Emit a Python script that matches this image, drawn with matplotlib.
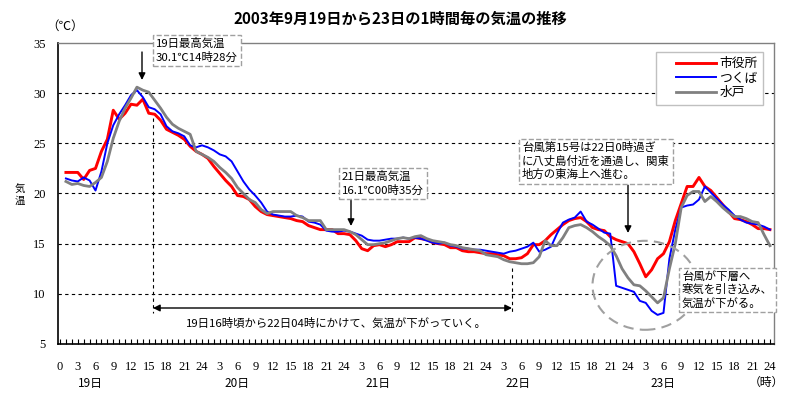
import matplotlib
matplotlib.use('Agg')
import matplotlib.pyplot as plt
from matplotlib.patches import Ellipse
from matplotlib.legend_handler import HandlerLine2D

plt.rcParams['font.family'] = ['Noto Sans CJK JP', 'DejaVu Sans']

# ---------------- data ----------------
hours = list(range(1, 121))

shiyakusho = [22.1, 22.1, 22.1, 21.4, 22.3, 22.5, 24.2, 25.4, 28.3, 27.4,
              28.0, 28.9, 28.8, 29.4, 28.0, 27.9, 27.3, 26.4, 26.1, 25.8,
              25.4, 24.7, 24.2, 23.9, 23.5, 22.7, 22.0, 21.3, 20.7, 19.8,
              19.7, 19.4, 18.7, 18.2, 17.9, 17.8, 17.7, 17.6, 17.5, 17.3,
              17.2, 16.8, 16.6, 16.4, 16.4, 16.4, 16.0, 16.0, 15.9, 15.3,
              14.5, 14.3, 14.8, 14.9, 14.7, 14.9, 15.2, 15.2, 15.2, 15.6,
              15.5, 15.4, 15.1, 15.0, 14.9, 14.6, 14.6, 14.3, 14.2, 14.2,
              14.1, 14.0, 14.0, 13.9, 13.8, 13.5, 13.5, 13.6, 14.0, 14.9,
              14.9, 15.3, 15.9, 16.4, 16.9, 17.3, 17.5, 17.6, 17.2, 16.6,
              16.4, 16.3, 15.7, 15.4, 15.2, 15.0, 14.2, 13.0, 11.7, 12.4,
              13.5, 14.0, 15.2, 17.3, 19.0, 20.7, 20.7, 21.6, 20.7, 20.3,
              19.6, 18.9, 18.2, 17.5, 17.4, 17.2, 16.9, 16.5, 16.5, 16.4]

tsukuba = [21.5, 21.3, 21.2, 21.6, 21.3, 20.3, 22.2, 25.0, 26.8, 27.9,
           28.8, 29.8, 30.3, 29.6, 28.6, 28.4, 27.9, 26.7, 26.2, 26.0,
           25.7, 24.8, 24.6, 24.8, 24.6, 24.3, 23.9, 23.7, 23.2, 22.2,
           21.2, 20.4, 19.8, 19.1, 18.2, 17.9, 17.8, 17.7, 17.7, 17.8,
           17.7, 17.2, 17.1, 16.9, 16.3, 16.2, 16.2, 16.3, 16.2, 16.0,
           15.8, 15.4, 15.3, 15.3, 15.4, 15.5, 15.5, 15.6, 15.5, 15.6,
           15.5, 15.3, 15.1, 15.0, 15.1, 14.8, 14.7, 14.5, 14.5, 14.4,
           14.4, 14.3, 14.2, 14.1, 14.0, 14.2, 14.3, 14.5, 14.7, 15.1,
           14.2, 14.4, 14.7, 16.0, 17.1, 17.4, 17.6, 18.2, 17.2, 16.9,
           16.5, 16.1, 16.0, 10.8, 10.6, 10.4, 10.2, 9.3, 9.1, 8.3,
           7.9, 8.1, 13.5, 16.4, 18.6, 18.8, 18.9, 19.4, 20.7, 20.1,
           19.5, 18.9, 18.4, 17.8, 17.4, 17.1, 17.0, 16.9, 16.7, 16.4]

mito = [21.2, 20.9, 21.0, 20.8, 20.7, 21.1, 21.6, 23.2, 25.5, 27.2,
        28.5, 29.5, 30.6, 30.3, 30.1, 29.3, 28.5, 27.6, 26.9, 26.5,
        26.2, 25.9, 24.2, 23.9, 23.6, 23.2, 22.6, 22.1, 21.5, 20.6,
        20.0, 19.4, 19.1, 18.4, 18.0, 18.2, 18.2, 18.2, 18.2, 17.8,
        17.6, 17.3, 17.3, 17.3, 16.4, 16.4, 16.4, 16.4, 16.2, 15.9,
        15.4, 14.9, 14.9, 15.0, 15.1, 15.3, 15.5, 15.6, 15.5, 15.7,
        15.8, 15.5, 15.3, 15.2, 15.1, 14.9, 14.8, 14.6, 14.5, 14.4,
        14.3, 13.9, 13.8, 13.7, 13.4, 13.2, 13.1, 13.0, 13.0, 13.1,
        13.7, 15.3, 14.8, 14.8, 15.6, 16.6, 16.8, 16.9, 16.6, 16.2,
        15.7, 15.3, 14.8, 13.8, 12.5, 11.6, 10.9, 10.8, 10.3, 9.7,
        9.1, 9.6, 12.5, 15.0, 18.6, 19.8, 20.2, 20.2, 19.2, 19.7,
        19.2, 18.6, 18.1, 17.7, 17.7, 17.5, 17.2, 17.1, 15.9, 14.8]

series_names = ['市役所', 'つくば', '水戸']
day_labels = ['19日', '20日', '21日', '22日', '23日']
y_ticks = [5, 10, 15, 20, 25, 30, 35]
x_major = list(range(0, 121, 3))
x_labels = ['0' if h == 0 else str((h - 1) % 24 + 1) for h in x_major]

title = '2003年9月19日から23日の1時間毎の気温の推移'
note1 = '19日最高気温\n30.1℃14時28分'
note2 = '21日最高気温\n16.1℃00時35分'
note3 = '台風第15号は22日0時過ぎ\nに八丈島付近を通過し、関東\n地方の東海上へ進む。'
note4 = '台風が下層へ\n寒気を引き込み、\n気温が下がる。'
note5 = '19日16時頃から22日04時にかけて、気温が下がっていく。'

# ---------------- figure ----------------
W, H = 800, 400
fig = plt.figure(figsize=(8, 4), dpi=100)
ax = fig.add_axes([58 / W, 1 - 344 / H, 716 / W, 301 / H])

XL = (-0.34, 120.68)
YL = (5, 35)
ax.set_xlim(*XL)
ax.set_ylim(*YL)

def fx(px):
    return px / W

def fy(py):
    return 1 - py / H

def ph(px):  # pixel x -> hour
    return XL[0] + (px - 58) / 716 * (XL[1] - XL[0])

def pt(py):  # pixel y -> temperature
    return YL[1] - (py - 43) / 301 * (YL[1] - YL[0])

# grid
for v in y_ticks[1:-1]:
    ax.axhline(v, color='black', lw=0.8, ls=(0, (3, 3)), zorder=1)

l1, = ax.plot(hours, shiyakusho, color='#ff0000', lw=2.1, zorder=3, label=series_names[0])
l2, = ax.plot(hours, tsukuba, color='#0000ff', lw=1.4, zorder=4, label=series_names[1])
l3, = ax.plot(hours, mito, color='#808080', lw=2.0, zorder=5, label=series_names[2])

# spines
for s in ['top', 'right']:
    ax.spines[s].set_color('#808080')
    ax.spines[s].set_linewidth(1.0)
for s in ['left', 'bottom']:
    ax.spines[s].set_color('black')
    ax.spines[s].set_linewidth(1.2)

ax.set_yticks(y_ticks)
ax.set_yticklabels([str(v) for v in y_ticks], family=['Liberation Serif'], fontsize=9)
ax.tick_params(axis='y', length=0, pad=9)
ax.set_xticks(x_major)
ax.set_xticklabels(x_labels, family=['Liberation Serif'], fontsize=9)
ax.set_xticks(range(0, 121), minor=True)
ax.tick_params(axis='x', which='both', direction='in', length=3.5, width=0.8, pad=12)

# day labels
day_px = [90.7, 237, 378, 518, 663]
for i, d in enumerate(day_labels):
    ax.text(ph(day_px[i]), pt(383), d, ha='center', va='center',
            fontsize=8.5, clip_on=False)
ax.text(ph(766), pt(382), '（時）', ha='center', va='center', fontsize=8.5, clip_on=False)

# title and axis labels
fig.text(0.5, fy(18), title, ha='center', va='center', fontsize=11, fontweight='bold')
fig.text(fx(65), fy(26), '（℃）', ha='center', va='center', fontsize=9)
fig.text(fx(20), fy(195), '気\n温', ha='center', va='center', fontsize=7.5, linespacing=1.2)

# legend
hm = {l: HandlerLine2D(xpad=1.2) for l in (l1, l2, l3)}
leg = ax.legend(handles=[l1, l2, l3], loc='upper left', handler_map=hm,
                bbox_to_anchor=(656 / W, fy(52)), bbox_transform=fig.transFigure,
                fancybox=False, edgecolor='#c0c0c0', fontsize=9.2, framealpha=1,
                handlelength=4.3, handletextpad=0.25, labelspacing=0.13,
                borderpad=0.4, borderaxespad=0)
leg.get_frame().set_linewidth(1.0)

box = dict(boxstyle='square,pad=0.3', fc='white', ec='#a0a0a0', ls='--', lw=1.0)
NF = 8.2
LS = 1.26
fig.text(fx(156), fy(38), note1, ha='left', va='top', fontsize=NF, bbox=box, linespacing=LS, zorder=10)
fig.text(fx(342), fy(171), note2, ha='left', va='top', fontsize=NF, bbox=box, linespacing=LS, zorder=10)
fig.text(fx(522), fy(142), note3, ha='left', va='top', fontsize=NF, bbox=box, linespacing=LS, zorder=10)
fig.text(fx(682), fy(271), note4, ha='left', va='top', fontsize=NF, bbox=box, linespacing=LS, zorder=10)

arrow = dict(arrowstyle='-|>', color='black', lw=1.0, mutation_scale=10, shrinkA=0, shrinkB=0)
ax.annotate('', xy=(ph(142), pt(80)), xytext=(ph(142), pt(52)), arrowprops=arrow,
            annotation_clip=False, zorder=8)
ax.annotate('', xy=(ph(351), pt(226)), xytext=(ph(351), pt(200)), arrowprops=arrow, zorder=8)
ax.annotate('', xy=(ph(628), pt(233)), xytext=(ph(628), pt(185)), arrowprops=arrow, zorder=8)

# period markers
ax.plot([ph(153), ph(153)], [pt(118), pt(313)], color='black', lw=0.8, ls=(0, (3, 3)), zorder=6)
ax.plot([ph(512), ph(512)], [pt(268), pt(313)], color='black', lw=0.8, ls=(0, (3, 3)), zorder=6)
ax.annotate('', xy=(ph(153), pt(308)), xytext=(ph(512), pt(308)),
            arrowprops=dict(arrowstyle='<|-|>', color='black', lw=1.0, mutation_scale=10,
                            shrinkA=0, shrinkB=0), zorder=8)
ax.text(ph(336), pt(323), note5, ha='center', va='center', fontsize=8.2, zorder=8)

# circle
ell = Ellipse((ph(645), pt(285.3)), width=105 / 716 * (XL[1] - XL[0]),
              height=89 / 301 * (YL[1] - YL[0]), fill=False, ec='#a0a0a0',
              lw=1.5, ls=(0, (5, 3)), zorder=7)
ax.add_patch(ell)

fig.savefig('out.png', dpi=100)
